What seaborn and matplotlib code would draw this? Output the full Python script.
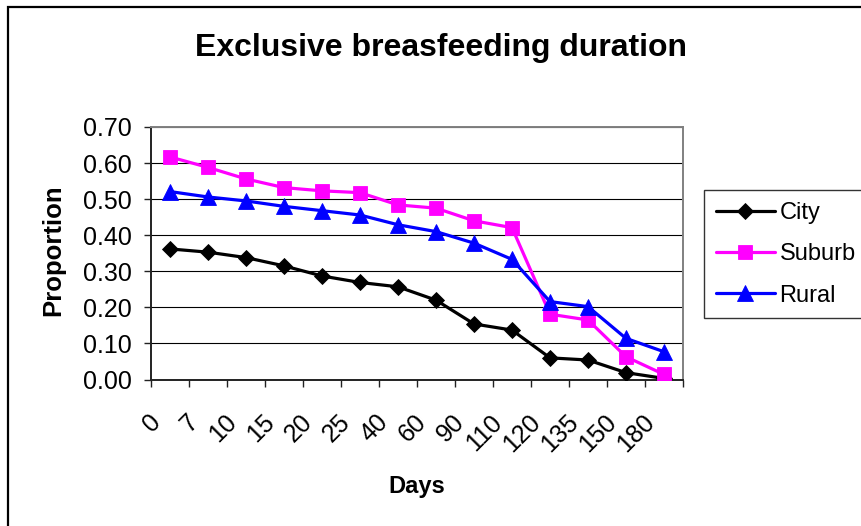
import numpy as np
import pandas as pd
import matplotlib
matplotlib.use("Agg")
import matplotlib.pyplot as plt
import matplotlib.transforms as mtransforms
from matplotlib.patches import Rectangle
import seaborn as sns

# ---- data ----
days = ["0", "7", "10", "15", "20", "25", "40", "60", "90", "110", "120", "135", "150", "180"]
city = [0.362, 0.353, 0.338, 0.315, 0.287, 0.269, 0.257, 0.220, 0.154, 0.137, 0.060, 0.054, 0.019, 0.003]
suburb = [0.617, 0.588, 0.556, 0.532, 0.523, 0.518, 0.484, 0.475, 0.440, 0.421, 0.181, 0.165, 0.063, 0.014]
rural = [0.521, 0.506, 0.495, 0.480, 0.468, 0.456, 0.429, 0.410, 0.378, 0.333, 0.216, 0.202, 0.114, 0.077]
series_names = ["City", "Suburb", "Rural"]
yticks = [0.0, 0.1, 0.2, 0.3, 0.4, 0.5, 0.6, 0.7]

pos = np.arange(len(days))
df = pd.concat([
    pd.DataFrame({"pos": pos, "Days": days, "Proportion": vals, "Area": name})
    for name, vals in zip(series_names, [city, suburb, rural])
], ignore_index=True)

sns.set_theme(style="white")
plt.rcParams["font.family"] = ["Liberation Sans", "DejaVu Sans"]
for k in ["text.color", "axes.labelcolor", "xtick.color", "ytick.color"]:
    plt.rcParams[k] = "black"

W, H = 861, 526
fig = plt.figure(figsize=(W / 100, H / 100), dpi=100)
fig.patch.set_facecolor("white")

x0, x1 = 151, 683
y0, y1 = 127, 379.5
ax = fig.add_axes([x0 / W, (H - y1) / H, (x1 - x0) / W, (y1 - y0) / H])
ax.set_facecolor("white")

palette = {"City": "#000000", "Suburb": "#FF00FF", "Rural": "#0000FF"}
markers = {"City": "D", "Suburb": "s", "Rural": "^"}
sns.lineplot(data=df, x="pos", y="Proportion", hue="Area", style="Area",
             hue_order=series_names, style_order=series_names,
             palette=palette, markers=markers, dashes=False,
             linewidth=2.3, sort=False, ax=ax, zorder=3)

msizes = {"D": 8.4, "s": 10.4, "^": 11.5}
for ln in ax.lines:
    m = ln.get_marker()
    if m in msizes:
        ln.set_markersize(msizes[m])
        ln.set_markeredgewidth(0.6)
        ln.set_markeredgecolor(ln.get_color())
        ln.set_markerfacecolor(ln.get_color())

ax.set_xlim(-0.5, len(days) - 0.5)
ax.set_ylim(0, 0.7)
ax.set_yticks(yticks)
ax.set_yticklabels([f"{v:.2f}" for v in yticks], fontsize=18)
ax.set_xticks(pos)
ax.set_xticklabels(days, fontsize=18, rotation=45, ha="right", va="top")
ax.set_xticks(np.arange(-0.5, len(days), 1.0), minor=True)
ax.tick_params(axis="x", which="major", length=0, pad=22, colors="black")
ax.tick_params(axis="x", which="minor", length=5, width=1.0, color="#222222", direction="out", bottom=True)
ax.tick_params(axis="y", which="major", length=5, width=1.0, color="#222222", labelcolor="black",
               direction="out", left=True, pad=9)
offset = mtransforms.ScaledTranslation(-0.05, 0, fig.dpi_scale_trans)
for lbl in ax.get_xticklabels():
    lbl.set_transform(lbl.get_transform() + offset)

ax.yaxis.grid(True, color="#000000", linewidth=0.8)
ax.xaxis.grid(False)
ax.set_axisbelow(True)
for s in ["left", "bottom"]:
    ax.spines[s].set_color("#222222")
    ax.spines[s].set_linewidth(1.4)
for s in ["top", "right"]:
    ax.spines[s].set_color("#808080")
    ax.spines[s].set_linewidth(1.4)
ax.set_xlabel("")
ax.set_ylabel("")

# texts
fig.text(441 / W, (H - 56) / H, "Exclusive breasfeeding duration", ha="center", va="baseline",
         fontsize=23, fontweight="bold", color="black")
fig.text(417 / W, (H - 493) / H, "Days", ha="center", va="baseline", fontsize=17,
         fontweight="bold", color="black")
fig.text(53 / W, (H - 250) / H, "Proportion", ha="center", va="center", rotation=90,
         fontsize=18.5, fontweight="bold", color="black")

# legend
handles, labels = ax.get_legend_handles_labels()
if ax.get_legend() is not None:
    ax.get_legend().remove()
leg = fig.legend(handles, labels, loc="upper left", bbox_to_anchor=(704 / W, (H - 190) / H),
                 bbox_transform=fig.transFigure, fontsize=17, frameon=True, fancybox=False,
                 edgecolor="black", handlelength=2.5, handletextpad=0.2, labelspacing=0.82,
                 borderpad=0.5, borderaxespad=0)
leg.get_frame().set_linewidth(1.0)
for t in leg.get_texts():
    t.set_color("black")

# chart area border
fig.patches.append(Rectangle((8 / W, -0.1), 1.2, (H - 7) / H + 0.1, transform=fig.transFigure,
                             fill=False, edgecolor="black", linewidth=1.6))

fig.savefig("out.png", dpi=100)
